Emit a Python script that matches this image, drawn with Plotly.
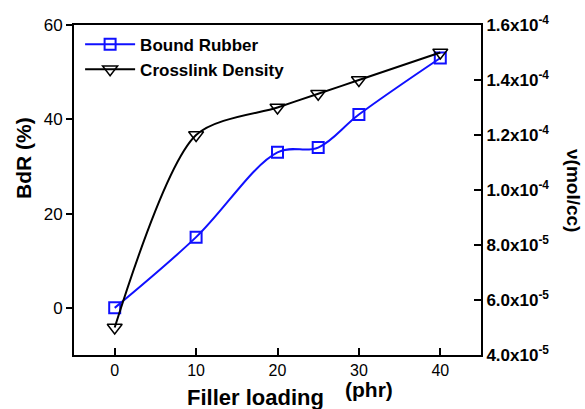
import plotly.graph_objects as go

filler = [0, 10, 20, 25, 30, 40]
bound_rubber = [0, 15, 33, 34, 41, 53]
crosslink = [5.0e-5, 1.2e-4, 1.30e-4, 1.35e-4, 1.40e-4, 1.50e-4]

x_ticks = [0, 10, 20, 30, 40]
y_ticks = [0, 20, 40, 60]
y2_ticks = [4.0e-5, 6.0e-5, 8.0e-5, 1.0e-4, 1.2e-4, 1.4e-4, 1.6e-4]
y2_labels = ["4.0x10<sup>-5</sup>", "6.0x10<sup>-5</sup>", "8.0x10<sup>-5</sup>",
             "1.0x10<sup>-4</sup>", "1.2x10<sup>-4</sup>", "1.4x10<sup>-4</sup>",
             "1.6x10<sup>-4</sup>"]

FONT = "Liberation Sans"

fig = go.Figure()
fig.add_trace(go.Scatter(
    x=filler, y=bound_rubber, name="<b>Bound Rubber</b>", mode="lines+markers",
    line=dict(color="#1010ff", width=2, shape="spline", smoothing=1),
    marker=dict(symbol="square-open", size=11, color="#1010ff", line=dict(width=2)),
))
fig.add_trace(go.Scatter(
    x=filler, y=crosslink, name="<b>Crosslink Density</b>", mode="lines+markers", yaxis="y2",
    line=dict(color="black", width=2, shape="spline", smoothing=0.8),
    marker=dict(symbol="triangle-down-open", size=13, color="black", line=dict(width=1.5)),
))

fig.update_layout(
    width=585, height=409,
    margin=dict(l=74, r=104, t=25, b=54),
    paper_bgcolor="white", plot_bgcolor="white",
    font=dict(family=FONT, color="black"),
    showlegend=True,
    legend=dict(x=0.015, y=0.995, xanchor="left", yanchor="top",
                bgcolor="rgba(0,0,0,0)", font=dict(size=17, family=FONT),
                tracegroupgap=0, itemwidth=50),
    xaxis=dict(range=[-5, 45], tickvals=x_ticks, showline=True, linecolor="black", linewidth=2,
               mirror=True, ticks="inside", ticklen=7, tickwidth=2, tickcolor="black",
               showgrid=False, zeroline=False,
               tickfont=dict(size=16, family=FONT), tickprefix="<b>", ticksuffix="</b>"),
    yaxis=dict(range=[-10, 60], tickvals=y_ticks, showline=True, linecolor="black", linewidth=2,
               ticks="outside", ticklen=6, tickwidth=2, tickcolor="black",
               showgrid=False, zeroline=False,
               tickfont=dict(size=17, family=FONT), tickprefix="<b>", ticksuffix="</b>"),
    yaxis2=dict(range=[4.0e-5, 1.6e-4], overlaying="y", side="right",
                tickvals=y2_ticks, ticktext=["<b>" + t + "</b>" for t in y2_labels],
                showline=True, linecolor="black", linewidth=2,
                ticks="inside", ticklen=7, tickwidth=2, tickcolor="black",
                showgrid=False, zeroline=False,
                tickfont=dict(size=17, family=FONT)),
)

# axis titles placed in pixel-equivalent paper coordinates (plot area 407x330 px)
fig.add_annotation(text="<b>BdR (%)</b>", xref="paper", yref="paper", x=(23 - 74) / 407,
                   y=(355 - 158) / 330, xanchor="center", yanchor="middle",
                   textangle=-90, showarrow=False, font=dict(size=21, family=FONT))
fig.add_annotation(text="<b>\u03bd(mol/cc)</b>", xref="paper", yref="paper", x=(574 - 74) / 407,
                   y=(355 - 190) / 330, xanchor="center", yanchor="middle",
                   textangle=90, showarrow=False, font=dict(size=19, family=FONT))
fig.add_annotation(text="<b>Filler loading</b>", xref="paper", yref="paper", x=(255 - 74) / 407,
                   y=(355 - 397) / 330, xanchor="center", yanchor="middle",
                   showarrow=False, font=dict(size=22, family=FONT))
fig.add_annotation(text="<b>(phr)</b>", xref="paper", yref="paper", x=(369 - 74) / 407,
                   y=(355 - 389) / 330, xanchor="center", yanchor="middle",
                   showarrow=False, font=dict(size=21, family=FONT))

fig.write_html("out.html", post_script="document.body.style.margin='0';",
               config={"displayModeBar": False})
